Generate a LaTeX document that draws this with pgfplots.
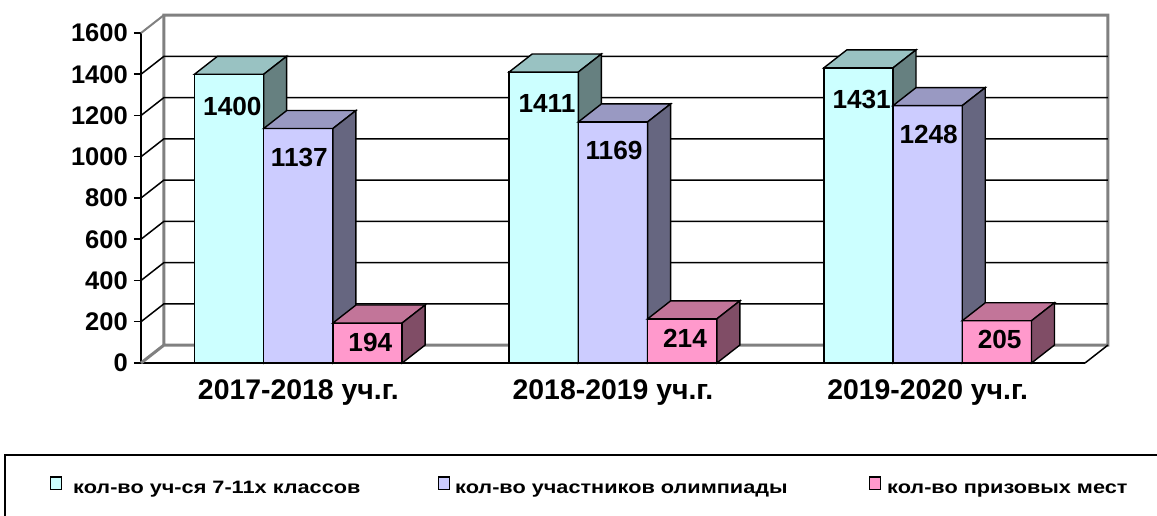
\documentclass[border=0pt]{standalone}
\usepackage{fontspec}
\setmainfont{Liberation Sans}
\newfontfamily\legfont[FakeStretch=1.21]{Liberation Sans}
\usepackage{pgfplots}
\pgfplotsset{compat=1.18}
\definecolor{cyF}{RGB}{204,255,255}
\definecolor{cyT}{RGB}{153,194,194}
\definecolor{cyS}{RGB}{102,128,128}
\definecolor{puF}{RGB}{204,204,255}
\definecolor{puT}{RGB}{153,153,194}
\definecolor{puS}{RGB}{102,102,128}
\definecolor{piF}{RGB}{255,153,204}
\definecolor{piT}{RGB}{194,117,153}
\definecolor{piS}{RGB}{128,77,102}
\definecolor{wallgray}{RGB}{128,128,128}
\pgfplotsset{
  face/.style={draw=black, line width=1.4bp, mark=none, sharp plot, forget plot},
  sqleg/.style={legend image code/.code={\draw[##1, line width=1.3bp] (0.65bp,-0.5bp) rectangle (11.35bp,12bp);}},
}
\tikzset{vlab/.style={font=\bfseries\fontsize{26.3}{28}\selectfont, anchor=center, text=black}}
\begin{document}
\begin{tikzpicture}
\useasboundingbox (0,0) rectangle (1157bp,516bp);
\draw[line width=1.5bp] (5bp,-5bp) -- (5bp,61bp) -- (1165bp,61bp);
\begin{axis}[
  at={(141bp,153bp)}, anchor=south west,
  scale only axis, width=944bp, height=330bp,
  xmin=-0.5, xmax=2.5, ymin=0, ymax=1600,
  clip=false,
  axis x line*=bottom, axis y line*=left,
  axis line style={line width=1.5bp, black},
  ytick={0,200,...,1600},
  xtick={0,1,2},
  xticklabels={2017-2018 уч.г., 2018-2019 уч.г., 2019-2020 уч.г.},
  x tick style={draw=none},
  extra x ticks={-0.5,0.5,1.5,2.5},
  extra x tick labels={},
  extra x tick style={tick style={draw=black, line width=1bp}, major tick length=6bp},
  y tick style={line width=1.5bp, black},
  tick align=outside,
  major tick length=7bp,
  /pgf/number format/assume math mode=true,
  /pgf/number format/1000 sep={},
  yticklabel style={font=\bfseries\fontsize{25.6}{28}\selectfont, inner sep=0pt, xshift=-6bp},
  xticklabel style={font=\bfseries\fontsize{28.5}{30}\selectfont, inner sep=0pt, anchor=north, yshift=-9.5bp},
  legend style={draw=none, fill=none, at={(-0.0964,-0.3758)}, anchor=west,
    legend columns=3, inner sep=0pt, nodes={inner sep=0pt, text height=13bp, text depth=4bp},
    font=\legfont\bfseries\fontsize{18}{20}\selectfont,
    /tikz/every even column/.append style={column sep=0bp},
    /tikz/every odd column/.append style={column sep=0bp}},
  legend cell align=left,
]
% back and side walls
\draw[wallgray, line width=3bp] (axis cs:-0.5,0) -- (axis cs:-0.427,87) -- (axis cs:2.573,87) -- (axis cs:2.573,1687) -- (axis cs:-0.427,1687) -- (axis cs:-0.427,87);
\draw[wallgray, line width=2bp] (axis cs:-0.5,1600) -- (axis cs:-0.427,1687);
\draw[black, line width=1.5bp] (axis cs:-0.5,200) -- (axis cs:-0.427,287) -- (axis cs:2.573,287);
\draw[black, line width=1.5bp] (axis cs:-0.5,400) -- (axis cs:-0.427,487) -- (axis cs:2.573,487);
\draw[black, line width=1.5bp] (axis cs:-0.5,600) -- (axis cs:-0.427,687) -- (axis cs:2.573,687);
\draw[black, line width=1.5bp] (axis cs:-0.5,800) -- (axis cs:-0.427,887) -- (axis cs:2.573,887);
\draw[black, line width=1.5bp] (axis cs:-0.5,1000) -- (axis cs:-0.427,1087) -- (axis cs:2.573,1087);
\draw[black, line width=1.5bp] (axis cs:-0.5,1200) -- (axis cs:-0.427,1287) -- (axis cs:2.573,1287);
\draw[black, line width=1.5bp] (axis cs:-0.5,1400) -- (axis cs:-0.427,1487) -- (axis cs:2.573,1487);
\draw[black, line width=1.5bp] (axis cs:2.5,0) -- (axis cs:2.573,87);

% series 1: cyan
\addplot[ybar, bar width=0.22, bar shift=-0.22, fill=cyF, draw=black, line width=1.4bp,
  sqleg,
  nodes near coords, nodes near coords style={vlab, yshift=-32bp, xshift=-66bp}]
  coordinates {(0,1400) (1,1411) (2,1431)};
\addlegendentry{\hspace{11bp}\makebox[365bp][l]{кол-во уч-ся 7-11х классов}}
\addplot[face, fill=cyT] coordinates {(-0.33,1400) (-0.11,1400) (-0.037,1487) (-0.257,1487)} -- cycle;
\addplot[face, fill=cyS] coordinates {(-0.11,0) (-0.11,1400) (-0.037,1487) (-0.037,87)} -- cycle;
\addplot[face, fill=cyT] coordinates {(0.67,1411) (0.89,1411) (0.963,1498) (0.743,1498)} -- cycle;
\addplot[face, fill=cyS] coordinates {(0.89,0) (0.89,1411) (0.963,1498) (0.963,87)} -- cycle;
\addplot[face, fill=cyT] coordinates {(1.67,1431) (1.89,1431) (1.963,1518) (1.743,1518)} -- cycle;
\addplot[face, fill=cyS] coordinates {(1.89,0) (1.89,1431) (1.963,1518) (1.963,87)} -- cycle;

% series 2: purple
\addplot[ybar, bar width=0.22, bar shift=0, fill=puF, draw=black, line width=1.4bp,
  sqleg,
  nodes near coords, nodes near coords style={vlab, yshift=-29bp, xshift=1bp}]
  coordinates {(0,1137) (1,1169) (2,1248)};
\addlegendentry{\hspace{5bp}\makebox[414bp][l]{кол-во участников олимпиады}}
\addplot[face, fill=puT] coordinates {(-0.11,1137) (0.11,1137) (0.183,1224) (-0.037,1224)} -- cycle;
\addplot[face, fill=puS] coordinates {(0.11,0) (0.11,1137) (0.183,1224) (0.183,87)} -- cycle;
\addplot[face, fill=puT] coordinates {(0.89,1169) (1.11,1169) (1.183,1256) (0.963,1256)} -- cycle;
\addplot[face, fill=puS] coordinates {(1.11,0) (1.11,1169) (1.183,1256) (1.183,87)} -- cycle;
\addplot[face, fill=puT] coordinates {(1.89,1248) (2.11,1248) (2.183,1335) (1.963,1335)} -- cycle;
\addplot[face, fill=puS] coordinates {(2.11,0) (2.11,1248) (2.183,1335) (2.183,87)} -- cycle;

% series 3: pink
\addplot[ybar, bar width=0.22, bar shift=0.22, fill=piF, draw=black, line width=1.4bp,
  sqleg,
  nodes near coords, nodes near coords style={vlab, yshift=-19bp, xshift=72bp}]
  coordinates {(0,194) (1,214) (2,205)};
\addlegendentry{\hspace{6bp}кол-во призовых мест}
\addplot[face, fill=piT] coordinates {(0.11,194) (0.33,194) (0.403,281) (0.183,281)} -- cycle;
\addplot[face, fill=piS] coordinates {(0.33,0) (0.33,194) (0.403,281) (0.403,87)} -- cycle;
\addplot[face, fill=piT] coordinates {(1.11,214) (1.33,214) (1.403,301) (1.183,301)} -- cycle;
\addplot[face, fill=piS] coordinates {(1.33,0) (1.33,214) (1.403,301) (1.403,87)} -- cycle;
\addplot[face, fill=piT] coordinates {(2.11,205) (2.33,205) (2.403,292) (2.183,292)} -- cycle;
\addplot[face, fill=piS] coordinates {(2.33,0) (2.33,205) (2.403,292) (2.403,87)} -- cycle;
\end{axis}
\end{tikzpicture}
\end{document}
